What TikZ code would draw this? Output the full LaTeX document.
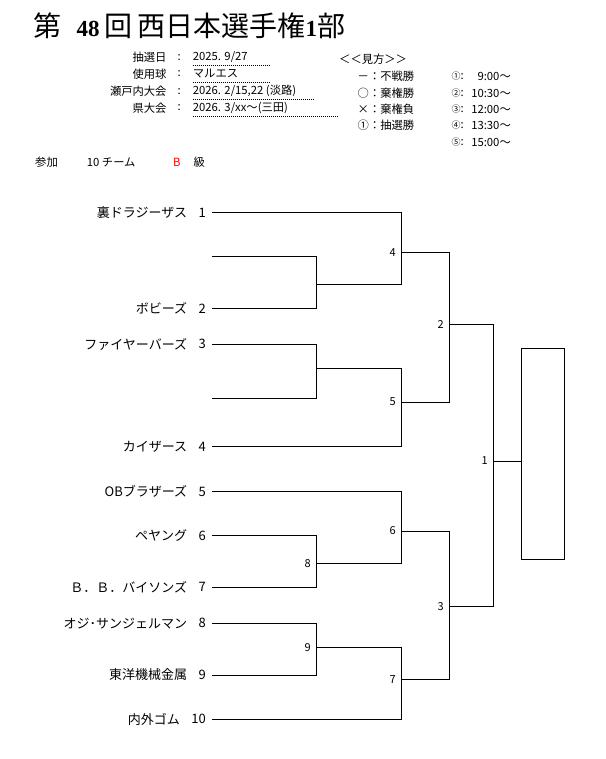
\documentclass[tikz,border=0pt]{standalone}
\usepackage{fontspec}
\setmainfont{Noto Sans CJK JP}
\newfontfamily\serifdigits{Liberation Serif}

\tikzstyle{edge} = [draw,line width=0.9pt,-]
\tikzstyle{team} = [font=\teamfont,inner sep=0pt,anchor=east]
\tikzstyle{seed} = [font=\teamfont,inner sep=0pt,anchor=east]
\tikzstyle{matchno} = [font=\matchfont,inner sep=0pt,anchor=east,xshift=-5pt]
\tikzstyle{info} = [font=\infofont,inner sep=0pt]
\tikzstyle{leader} = [draw,line width=0.8pt,dash pattern=on 1pt off 1pt]
\tikzstyle{champ} = [draw,line width=0.9pt,inner sep=0pt,minimum width=42.6pt,minimum height=210.7pt]
\newcommand{\teamfont}{\fontsize{13}{15}\selectfont}
\newcommand{\matchfont}{\fontsize{11}{13}\selectfont}
\newcommand{\infofont}{\fontsize{11.3}{13}\selectfont}
\newcommand{\circfont}{\fontsize{9}{11}\selectfont}
\newcommand{\titledigits}[1]{{\serifdigits\bfseries\fontsize{23}{26}\selectfont #1}}

\begin{document}
\begin{tikzpicture}[x=1pt, y=-1pt]
    \useasboundingbox (0,0) rectangle (605,759);
    % Title and header block
    \node[inner sep=0pt, anchor=west, font=\fontsize{28}{32}\selectfont] (title) at (33.5,26)
        {第\hspace{15pt}\titledigits{48}\hspace{5pt}回\hspace{5pt}西日本選手権\titledigits{1}部};
    \foreach \y/\key/\val/\len [count=\i] in {57.3/抽選日/{2025. 9/27}/270.7, 74/使用球/マルエス/270.7,
        91.3/瀬戸内大会/{2026. 2/15,22 (淡路)}/313, 108/県大会/{2026. 3/xx～(三田)}/337}
    {
        \node[info, anchor=east] (key\i) at (166.7,\y) {\key};
        \node[info] (colon\i) at (179.3,\y) {:};
        \node[info, anchor=west] (val\i) at (192.7,\y) {\val};
        \path[leader] (192.7,\y+8.2) -- (\len,\y+8.2);
    }
    \node[info, anchor=west] (legend) at (339,59) {＜＜見方＞＞};
    \foreach \y/\mark/\txt [count=\i] in {76/－/不戦勝, 93/○/棄権勝, 109.5/×/棄権負, 125.5/①/抽選勝}
        \node[info, anchor=west] (mark\i) at (357.5,\y) {\mark：\txt};
    \foreach \y/\mark/\time [count=\i] in {76/①/9:00～, 93/②/10:30～, 109.5/③/12:00～, 125.5/④/13:30～, 142/⑤/15:00～}
    {
        \node[info, anchor=west] (slot\i) at (451.5,\y) {{\circfont\mark}:};
        \node[info, anchor=east] (time\i) at (511,\y) {\time};
    }
    \node[info, anchor=west] (entry) at (35,162.7) {参加};
    \node[info, anchor=west] (count) at (86.7,162.7) {10 チーム};
    \node[info, anchor=west, text=red] (grade) at (173,162.7) {B};
    \node[info, anchor=west] (gradeunit) at (193.3,162.7) {級};

    % First we place the teams
    \foreach \y/\name/\num in {212.7/裏ドラジーザス/1, 308.3/ボビーズ/2, 344.3/ファイヤーバーズ/3, 446.7/カイザース/4,
        491.7/OBブラザーズ/5, 535.7/ペヤング/6, 587.3/Ｂ．Ｂ．バイソンズ/7, 623.3/オジ･サンジェルマン/8,
        675/東洋機械金属/9, 719.3/内外ゴム/10}
    {
        \node[seed] (n\num) at (206,\y) {\num};
        \node[team] (name\num) at ([xshift=-11pt]n\num.west) {\name};
        \coordinate (t\num) at (212,\y);
    }
    \coordinate (b1) at (212,256.7);
    \coordinate (b2) at (212,398.3);
    % Match points and their numbers
    \coordinate (mA) at (316,284.3);
    \coordinate (mB) at (316,368.3);
    \foreach \num/\x/\y in {8/316/563.3, 9/316/647.3, 4/401/252.3, 5/401/402,
        6/401/531, 7/401/679.3, 2/449/324.3, 3/449/606.7, 1/493/461}
    {
        \coordinate (m\num) at (\x,\y);
        \node[matchno] (no\num) at (\x,\y) {\num};
    }
    % Connect everything with bracket lines
    \foreach \source/\dest in {t1/m4, b1/mA, t2/mA, mA/m4, t3/mB, b2/mB, mB/m5, t4/m5,
        t5/m6, t6/m8, t7/m8, m8/m6, t8/m9, t9/m9, m9/m7, t10/m7,
        m4/m2, m5/m2, m6/m3, m7/m3, m2/m1, m3/m1}
        \path[edge] (\source) -| (\dest);
    \node[champ] (winner) at (543,453.65) {};
    \path[edge] (m1) -- (m1 -| winner.west);
\end{tikzpicture}
\end{document}
